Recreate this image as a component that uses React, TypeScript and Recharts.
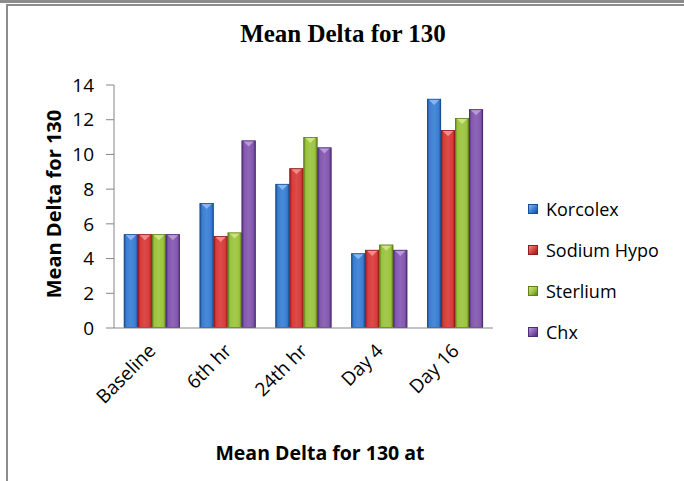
import { BarChart, Bar, XAxis, YAxis } from 'recharts'

const categories = ['Baseline', '6th hr', '24th hr', 'Day 4', 'Day 16']
const korcolex = [5.4, 7.2, 8.3, 4.3, 13.2]
const sodiumHypo = [5.4, 5.3, 9.2, 4.5, 11.4]
const sterlium = [5.4, 5.5, 11.0, 4.8, 12.1]
const chx = [5.4, 10.8, 10.4, 4.5, 12.6]
const yTicks = [0, 2, 4, 6, 8, 10, 12, 14]

const series = [
  { key: 'korcolex', name: 'Korcolex', values: korcolex, base: '#3a7fd4', edge: '#1c4d8e', tip: '#86b6f0' },
  { key: 'sodiumHypo', name: 'Sodium Hypo', values: sodiumHypo, base: '#d93b3b', edge: '#8d1d1d', tip: '#f28a8a' },
  { key: 'sterlium', name: 'Sterlium', values: sterlium, base: '#9cc43e', edge: '#5f7e1e', tip: '#cde383' },
  { key: 'chx', name: 'Chx', values: chx, base: '#8458b0', edge: '#4d2d76', tip: '#b898da' },
]

const data = categories.map((c, i) => {
  const row: Record<string, string | number> = { cat: c }
  series.forEach(s => { row[s.key] = s.values[i] })
  return row
})

const GREY = '#868686'
const SANS = '"Open Sans", sans-serif'

function BevelBar(props: any) {
  const { x, y, width, height, tone } = props
  if (!height || height <= 0) return null
  const tipH = Math.min(6, height)
  return (
    <g>
      <rect x={x} y={y} width={width} height={height} fill={`url(#grad-${tone.key})`} />
      <polygon points={`${x + 1},${y} ${x + width - 1},${y} ${x + width / 2},${y + tipH}`} fill={tone.tip} />
      <rect x={x + 0.4} y={y + 0.4} width={width - 0.8} height={height - 0.8} fill="none" stroke={tone.edge} strokeWidth={0.8} />
    </g>
  )
}

// category names run diagonally up to the right, ending under each group
function CategoryTick(props: any) {
  const { x, payload } = props
  const px = x + 5
  const py = 352
  return (
    <text x={px} y={py} transform={`rotate(-45 ${px} ${py})`} textAnchor="end" fontFamily={SANS} fontSize={19} fill="#000">
      {payload.value}
    </text>
  )
}

export default function App() {
  return (
    <div style={{ position: 'absolute', left: 0, top: 0, width: 684, height: 481, background: '#fff', overflow: 'hidden' }}>
      <div style={{ position: 'absolute', left: 0, top: 0, width: 684, height: 3, background: '#8c8c8c' }} />
      <div style={{ position: 'absolute', left: 6, top: 4, width: 700, height: 500, borderLeft: '2px solid #8c8c8c', borderTop: '2px solid #8c8c8c' }} />

      <div style={{ position: 'absolute', left: 0, top: 20, width: 684, textAlign: 'center', fontFamily: '"Liberation Serif", serif', fontWeight: 'bold', fontSize: 25, color: '#000' }}>
        <span style={{ position: 'relative', left: 1 }}>Mean Delta for 130</span>
      </div>

      <BarChart
        width={684}
        height={481}
        data={data}
        margin={{ top: 85, right: 191, bottom: 123, left: 0 }}
        barCategoryGap="13%"
        barGap={0}
        style={{ position: 'absolute', left: 0, top: 0 }}
      >
        <defs>
          {series.map(s => (
            <linearGradient key={s.key} id={`grad-${s.key}`} x1="0" y1="0" x2="1" y2="0">
              <stop offset="0%" stopColor={s.edge} />
              <stop offset="18%" stopColor={s.base} />
              <stop offset="50%" stopColor={s.base} stopOpacity={0.92} />
              <stop offset="82%" stopColor={s.base} />
              <stop offset="100%" stopColor={s.edge} />
            </linearGradient>
          ))}
        </defs>
        <XAxis dataKey="cat" height={30} axisLine={{ stroke: GREY }} tickLine={false} tick={<CategoryTick />} interval={0} />
        <YAxis
          width={114}
          domain={[0, 14]}
          ticks={yTicks}
          axisLine={{ stroke: GREY }}
          tickLine={{ stroke: GREY }}
          tickSize={8}
          tickMargin={12}
          tick={{ fontFamily: SANS, fontSize: 19, fill: '#000' }}
        />
        {series.map(s => (
          <Bar key={s.key} dataKey={s.key} name={s.name} fill={s.base} isAnimationActive={false} shape={(p: any) => <BevelBar {...p} tone={s} />} />
        ))}
      </BarChart>

      <div style={{ position: 'absolute', left: 53, top: 204, transform: 'translate(-50%, -50%) rotate(-90deg)', whiteSpace: 'nowrap', fontFamily: SANS, fontWeight: 'bold', fontSize: 20, color: '#000' }}>
        Mean Delta for 130
      </div>
      <div style={{ position: 'absolute', left: 320, top: 452, transform: 'translate(-50%, -50%)', whiteSpace: 'nowrap', fontFamily: SANS, fontWeight: 'bold', fontSize: 19.5, color: '#000' }}>
        Mean Delta for 130 at
      </div>

      {series.map((s, i) => (
        <div key={s.key} style={{ position: 'absolute', left: 528, top: 197 + i * 41, height: 24, display: 'flex', alignItems: 'center', fontFamily: SANS, fontSize: 18, color: '#000', whiteSpace: 'nowrap' }}>
          <span style={{ display: 'inline-block', width: 10, height: 10, marginRight: 8, background: `linear-gradient(135deg, ${s.tip}, ${s.base} 55%, ${s.edge})`, border: `1px solid ${s.edge}`, boxSizing: 'border-box' }} />
          {s.name}
        </div>
      ))}
    </div>
  )
}
